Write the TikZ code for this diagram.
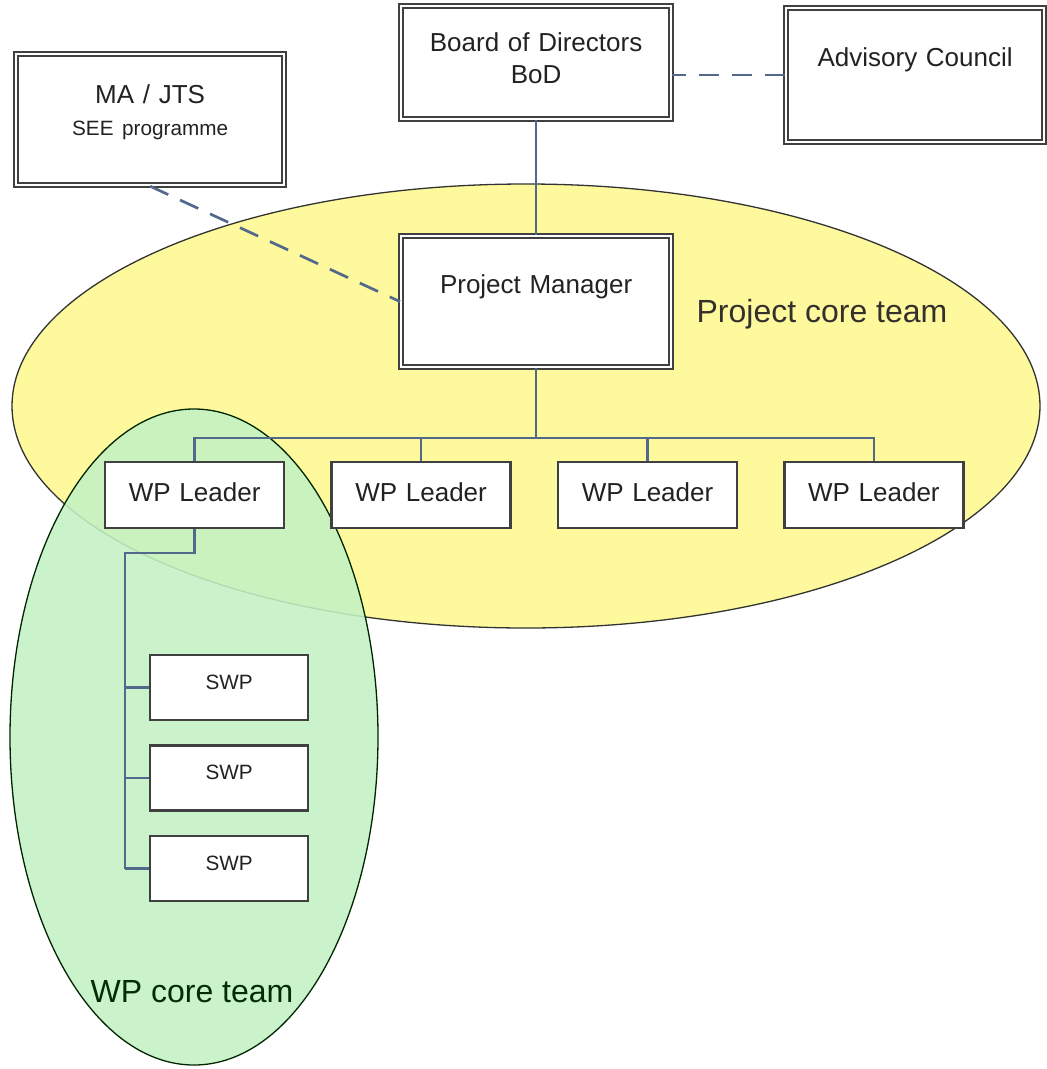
\documentclass[tikz,border=0pt]{standalone}
\usepackage{fontspec}
\setmainfont{Liberation Sans}
\usetikzlibrary{positioning, shapes.geometric}
\definecolor{coreyellow}{HTML}{FDF99C}
\definecolor{wpgreen}{HTML}{C4F2C4}
\definecolor{linkblue}{HTML}{52698C}
\definecolor{boxgray}{HTML}{404040}
\definecolor{txtgray}{HTML}{222222}

\begin{document}
\begin{tikzpicture}[
x=1pt, y=-1pt,
font=\fontsize{26}{32}\selectfont, text=txtgray,
board/.style={rectangle, draw=boxgray, double=white, line width=2.2pt, double distance=1.8pt, fill=white, inner sep=0pt, align=center, anchor=north west},
unit/.style={rectangle, draw=boxgray, line width=2.4pt, fill=white, inner sep=0pt, align=center, anchor=north west, text width=179pt, text height=39pt, text depth=27pt},
subunit/.style={unit, font=\fontsize{20.7}{24}\selectfont, text width=158pt, text height=34pt, text depth=31pt},
team/.style={ellipse, draw=black!80, line width=1.3pt, inner sep=0pt},
teamlabel/.style={anchor=base, font=\fontsize{32}{38}\selectfont},
link/.style={draw=linkblue, line width=2.7pt},
dashlink/.style={link, dash pattern=on 20pt off 13pt}
]

\fill[white] (0,0) rectangle (1047,1069);
\useasboundingbox (0,0) rectangle (1047,1069);

\node[team, fill=coreyellow, minimum width=1028pt, minimum height=444pt] (coreteam) at (526,406) {};
\node[team, draw=green!15!black, fill=wpgreen, fill opacity=0.88, minimum width=368pt, minimum height=656pt] (wpteam) at (194,737) {};
\node[teamlabel, text=black!92!yellow] (corelabel) at (822,322) {Project core team};
\node[teamlabel, text=green!18!black] (wplabel) at (192,1002) {WP core team};

\node[board, text width=268pt, text height=49pt, text depth=82pt] (ma) at (15,53) {MA / JTS\\\fontsize{20.7}{20}\selectfont SEE programme};
\node[board, text width=270pt, text height=45pt, text depth=68pt] (bod) at (400,5) {Board of Directors\\BoD};
\node[board, text width=258pt, text height=58pt, text depth=76pt] (adv) at (785,7) {Advisory Council};
\node[board, text width=270pt, text height=57pt, text depth=74pt] (pm) at (400,235) {Project Manager};

\node[unit] (wp1) at (104,461) {WP Leader};
\node[unit, right=45pt of wp1] (wp2) {WP Leader};
\node[unit, right=45pt of wp2] (wp3) {WP Leader};
\node[unit, right=45pt of wp3] (wp4) {WP Leader};

\node[subunit] (swp1) at (149,654) {SWP};
\node[subunit, below=23pt of swp1] (swp2) {SWP};
\node[subunit, below=23pt of swp2] (swp3) {SWP};

\coordinate (spine) at (125,553);

\draw[link] (bod) -- (pm);
\draw[dashlink] (adv.west) -- (adv.west -| bod.east);
\draw[dashlink] (ma.south) -- (pm.west);
\foreach \w in {wp1,wp2,wp3,wp4}
  \draw[link] (\w.north) -- ++(0,-23) -| (pm.south);
\draw[link] (wp1.south) |- (spine) -- (spine |- swp3.west);
\foreach \s in {swp1,swp2,swp3}
  \draw[link] (spine |- \s.west) -- (\s.west);

\end{tikzpicture}
\end{document}
